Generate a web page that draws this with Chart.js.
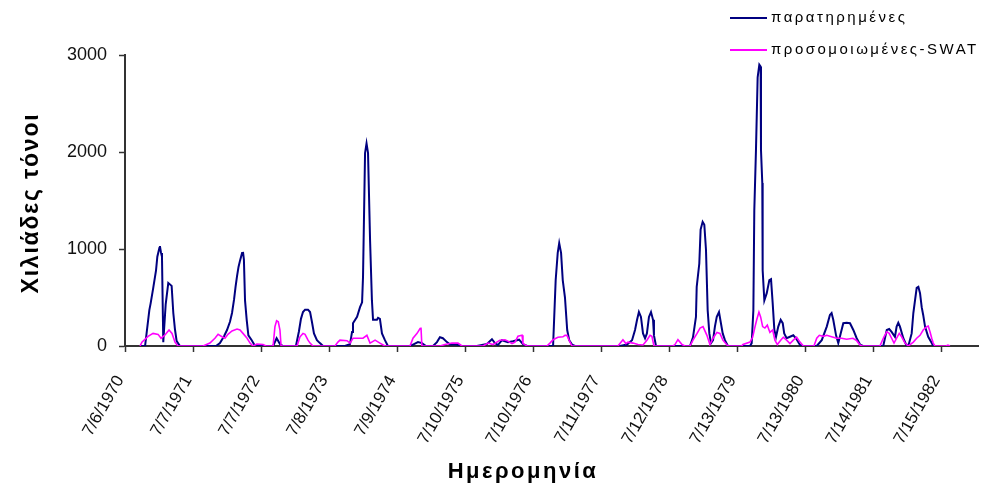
<!DOCTYPE html>
<html>
<head>
<meta charset="utf-8">
<script src="https://cdn.jsdelivr.net/npm/chart.js@4.4.1/dist/chart.umd.min.js"></script>
<style>
  body { margin: 0; background: #fff; }
  #wrap { width: 981px; height: 486px; position: relative; }
</style>
</head>
<body>
<div id="wrap"><canvas id="chart"></canvas></div>
<script>
const FONT = '"Liberation Sans", Arial, sans-serif';

// x in days since 7/6/1970, one tick every 366 days (as on the original axis)
const tickLabels = ['7/6/1970', '7/7/1971', '7/7/1972', '7/8/1973', '7/9/1974', '7/10/1975', '7/10/1976',
    '7/11/1977', '7/12/1978', '7/13/1979', '7/13/1980', '7/14/1981', '7/15/1982'];
const TICK_DAYS = 366;
const X_MAX = 4591;

const seriesNames = ['παρατηρημένες', 'προσομοιωμένες-SWAT'];

// observed (thousand tonnes)
const obsDays = [
    81, 108, 131, 138, 152, 167, 174, 185, 188, 194, 199, 206, 219, 233, 251, 260, 269, 278, 296, 350,
    490, 511, 533, 549, 565, 576, 587, 595, 603, 611, 619, 630, 635, 640, 646, 655, 664, 682, 700, 743, 797, 816, 834, 850,
    920, 936, 947, 958, 969, 985, 996, 1006, 1017, 1033, 1049, 1066,
    1184, 1211, 1222, 1227, 1249, 1265, 1276, 1281, 1292, 1300, 1308, 1319, 1329, 1335, 1356, 1362, 1372, 1383, 1399, 1415,
    1534, 1550, 1577, 1598, 1620, 1658, 1679, 1695, 1711, 1733, 1749, 1787, 1803,
    1894, 1948, 1975, 1991, 2007, 2029, 2061, 2088, 2110, 2121, 2142, 2164,
    2304, 2318, 2329, 2337, 2347, 2356, 2368, 2380, 2391, 2406, 2422,
    2664, 2702, 2729, 2745, 2756, 2766, 2777, 2788, 2799, 2809, 2820, 2831, 2842, 2847, 2858, 2917,
    3041, 3057, 3073, 3077, 3091, 3098, 3109, 3118, 3127, 3136, 3145, 3154, 3165, 3175, 3185, 3197, 3206, 3217, 3229, 3245, 3283,
    3364, 3373, 3382, 3387, 3396, 3405, 3414, 3421, 3423, 3430, 3432, 3441, 3454, 3468, 3477, 3486, 3495, 3504, 3516, 3529, 3540, 3548, 3561, 3579, 3597, 3611, 3633, 3649,
    3723, 3750, 3777, 3794, 3803, 3812, 3827, 3839, 3852, 3866, 3884, 3902, 3920, 3938, 3956, 3972, 4010,
    4081, 4100, 4113, 4126, 4144, 4153, 4162, 4171, 4189, 4207, 4219, 4234, 4243, 4252, 4261, 4270, 4279, 4288, 4296, 4306, 4323, 4342, 4350,
];
const obsVals = [
    0, 0, 370, 440, 600, 780, 920, 1010, 1030, 960, 920, 40, 430, 650, 620, 340, 170, 50, 0, 0,
    0, 30, 100, 165, 250, 340, 480, 610, 720, 815, 880, 960, 970, 890, 470, 270, 110, 60, 0, 0, 0, 80, 20, 0,
    0, 150, 280, 350, 375, 375, 350, 250, 130, 60, 30, 0,
    0, 20, 145, 235, 300, 400, 450, 710, 1990, 2090, 1990, 1090, 470, 270, 270, 290, 280, 130, 60, 0,
    0, 15, 40, 30, 0, 0, 40, 90, 80, 40, 15, 15, 0,
    0, 20, 70, 30, 10, 60, 40, 50, 60, 65, 20, 0,
    0, 680, 960, 1060, 960, 680, 500, 165, 60, 15, 0,
    0, 15, 60, 165, 270, 350, 300, 130, 80, 130, 300, 350, 270, 110, 0, 0,
    0, 90, 300, 610, 850, 1200, 1280, 1250, 990, 370, 130, 30, 60, 200, 300, 350, 250, 130, 60, 0, 0,
    0, 30, 370, 1400, 2020, 2770, 2900, 2880, 2020, 1680, 780, 470, 545, 680, 690, 440, 165, 95, 200, 270, 235, 130, 80, 95, 110, 80, 10, 0,
    0, 60, 200, 320, 340, 270, 110, 30, 130, 235, 240, 235, 165, 80, 15, 0, 0,
    0, 165, 175, 145, 95, 200, 240, 200, 80, 0, 20, 130, 340, 470, 600, 610, 545, 400, 320, 200, 95, 30, 0,
];

// simulated SWAT (thousand tonnes)
const simDays = [
    81, 91, 124, 151, 178, 194, 215, 237, 253, 269, 285,
    420, 457, 484, 501, 522, 538, 554, 576, 603, 619, 635, 657, 673, 689, 710, 743, 759,
    797, 807, 816, 825, 834, 840,
    926, 942, 958, 969, 985, 996, 1012,
    1130, 1146, 1157, 1195, 1211, 1227, 1281, 1302, 1319, 1346, 1372, 1399,
    1534, 1550, 1572, 1588, 1593, 1598, 1695, 1722, 1760, 1792, 1814,
    1927, 1954, 1981, 2018, 2045, 2061, 2083, 2099, 2115, 2137, 2142, 2164,
    2271, 2287, 2304, 2330, 2357, 2368, 2379, 2390, 2406,
    2653, 2680, 2696, 2707, 2734, 2761, 2788, 2809, 2826, 2836, 2847, 2950, 2960, 2976, 2998, 3014,
    3041, 3057, 3079, 3095, 3111, 3132, 3148, 3165, 3186, 3202, 3218, 3245,
    3319, 3326, 3364, 3378, 3391, 3400, 3412, 3421, 3432, 3444, 3457, 3471, 3486, 3498, 3511, 3529, 3543, 3561, 3579, 3597, 3615, 3633, 3651,
    3708, 3723, 3737, 3758, 3777, 3794, 3830, 3857, 3884, 3918, 3938, 3956, 3966,
    4063, 4085, 4100, 4113, 4126, 4139, 4153, 4167, 4180, 4198, 4216, 4243, 4261, 4279, 4296, 4315, 4323, 4333, 4342, 4350, 4359, 4419, 4429, 4440,
];
const simVals = [
    0, 40, 100, 130, 120, 80, 113, 165, 130, 40, 0,
    0, 30, 80, 120, 95, 80, 120, 155, 175, 165, 130, 80, 30, 0, 20, 15, 0,
    0, 200, 260, 250, 165, 0,
    0, 95, 130, 120, 60, 30, 0,
    0, 40, 60, 55, 30, 80, 80, 110, 30, 60, 30, 0,
    0, 80, 130, 180, 190, 0, 0, 15, 30, 30, 0,
    0, 30, 15, 60, 65, 50, 25, 40, 100, 110, 25, 0,
    0, 30, 65, 90, 95, 110, 110, 60, 0,
    0, 65, 25, 40, 30, 15, 10, 60, 110, 100, 0, 0, 15, 65, 15, 0,
    0, 60, 130, 185, 200, 110, 15, 80, 140, 130, 60, 0,
    0, 15, 40, 90, 200, 270, 350, 300, 200, 185, 215, 140, 165, 60, 15, 60, 90, 60, 25, 60, 90, 40, 0,
    0, 80, 110, 100, 110, 100, 80, 80, 70, 80, 55, 10, 0,
    0, 95, 145, 130, 80, 30, 80, 130, 95, 30, 0, 40, 80, 110, 165, 200, 205, 145, 80, 30, 0, 0, 10, 0,
];

const colors = ['#000080', '#ff00ff'];

function points(days, vals) {
    return days.map((d, i) => ({ x: d, y: vals[i] }));
}

// legend + axis titles, placed as in the original
const decorations = {
    id: 'decorations',
    afterDraw(chart) {
        const ctx = chart.ctx;
        ctx.save();
        ctx.fillStyle = '#000';

        // legend
        ctx.font = '15px ' + FONT;
        ctx.letterSpacing = '2.5px';
        ctx.textAlign = 'left';
        ctx.textBaseline = 'middle';
        const rows = [18, 50];
        seriesNames.forEach((name, i) => {
            ctx.strokeStyle = colors[i];
            ctx.lineWidth = 2;
            ctx.beginPath();
            ctx.moveTo(730, rows[i]);
            ctx.lineTo(767, rows[i]);
            ctx.stroke();
            ctx.fillText(name, 771, rows[i]);
        });

        // y title
        ctx.font = 'bold 23px ' + FONT;
        ctx.letterSpacing = '1.8px';
        ctx.textAlign = 'center';
        ctx.translate(32, 203);
        ctx.rotate(-Math.PI / 2);
        ctx.fillText('Χιλιάδες τόνοι', 0, 0);
        ctx.restore();

        ctx.save();
        ctx.fillStyle = '#000';
        ctx.font = 'bold 22px ' + FONT;
        ctx.letterSpacing = '2.5px';
        ctx.textAlign = 'center';
        ctx.textBaseline = 'alphabetic';
        ctx.fillText('Ημερομηνία', 523, 478);
        ctx.restore();
    },
};

new Chart(document.getElementById('chart'), {
    type: 'line',
    data: {
        datasets: [
            {
                label: seriesNames[0],
                data: points(obsDays, obsVals),
                borderColor: colors[0],
                borderWidth: 2,
                pointRadius: 0,
                tension: 0,
                order: 1,
            },
            {
                label: seriesNames[1],
                data: points(simDays, simVals),
                borderColor: colors[1],
                borderWidth: 1.6,
                pointRadius: 0,
                tension: 0,
                order: 0,
            },
        ],
    },
    options: {
        responsive: true,
        maintainAspectRatio: false,
        animation: false,
        layout: { padding: { top: 55, right: 3, left: 0, bottom: 0 } },
        scales: {
            x: {
                type: 'linear',
                min: 0,
                max: X_MAX,
                afterBuildTicks: (s) => {
                    s.ticks = tickLabels.map((_, i) => ({ value: i * TICK_DAYS }));
                },
                afterFit: (s) => { s.height = 140; },
                ticks: {
                    // trailing spaces push the rotated label away from the tick, as in the original
                    callback: (v) => (tickLabels[Math.round(v / TICK_DAYS)] ?? '') + '  ',
                    autoSkip: false,
                    minRotation: 60,
                    maxRotation: 60,
                    padding: 12,
                    color: '#111',
                    font: { family: FONT, size: 17 },
                },
                grid: { drawOnChartArea: false, tickLength: 6, color: '#333', tickWidth: 1.5 },
                border: { color: '#333', width: 2 },
            },
            y: {
                min: 0,
                max: 3000,
                afterFit: (s) => { s.width = 125; },
                ticks: {
                    stepSize: 1000,
                    callback: (v) => String(v),
                    padding: 12,
                    color: '#111',
                    font: { family: FONT, size: 18 },
                },
                grid: { drawOnChartArea: false, tickLength: 6, color: '#333', tickWidth: 1.5 },
                border: { color: '#333', width: 2 },
            },
        },
        plugins: {
            legend: { display: false },
            tooltip: { enabled: false },
        },
    },
    plugins: [decorations],
});
</script>
</body>
</html>
